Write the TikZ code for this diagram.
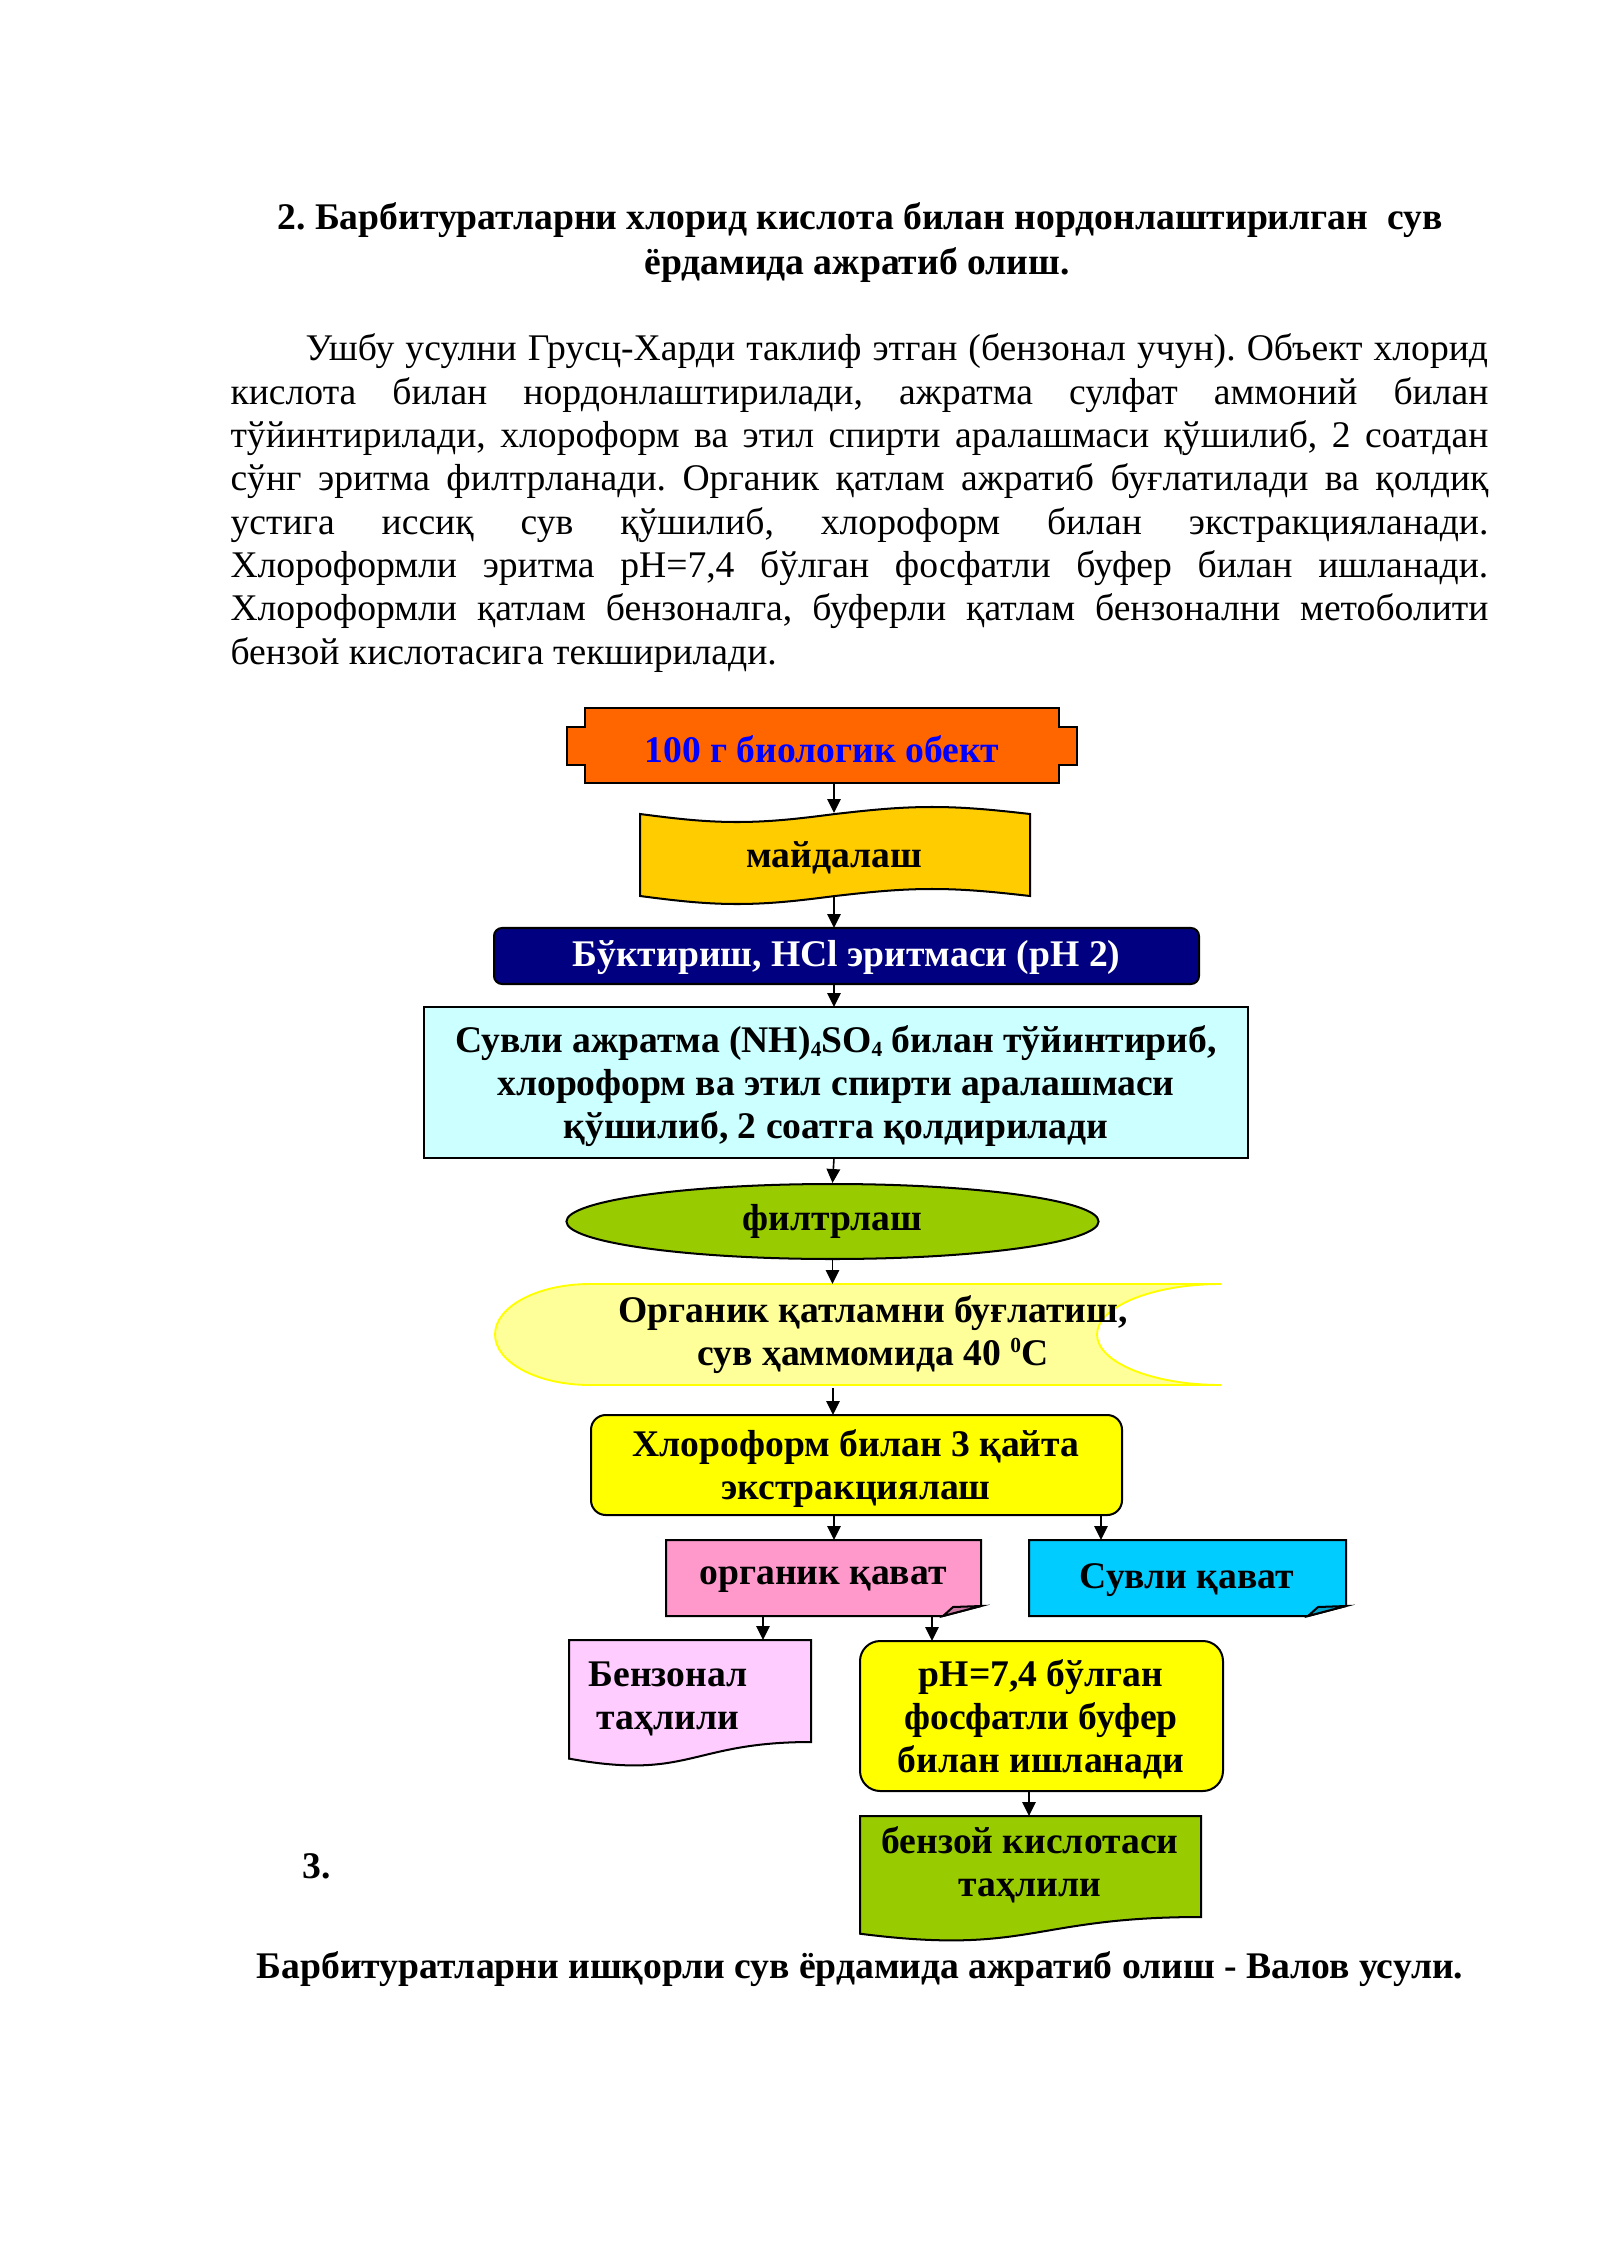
\documentclass[tikz,border=0pt]{standalone}
\usepackage{fontspec}
\setmainfont{Liberation Serif}
\usetikzlibrary{arrows.meta,shapes.geometric}
\definecolor{cOrange}{HTML}{FF6600}
\definecolor{cBlue}{HTML}{0000FF}
\definecolor{cGold}{HTML}{FFCC00}
\definecolor{cNavy}{HTML}{000080}
\definecolor{cLCyan}{HTML}{CCFFFF}
\definecolor{cGreen}{HTML}{99CC00}
\definecolor{cLYellow}{HTML}{FFFF99}
\definecolor{cYellow}{HTML}{FFFF00}
\definecolor{cPink}{HTML}{FF99CC}
\definecolor{cPinkD}{HTML}{CC7AA3}
\definecolor{cCyan}{HTML}{00CCFF}
\definecolor{cCyanD}{HTML}{00A3CC}
\definecolor{cPale}{HTML}{FFCCFF}
\newcommand{\lowfour}{\raisebox{-1.5pt}{\fontsize{8}{8}\selectfont 4}}
\tikzset{
  bx/.style={draw=black, line width=0.75pt, line join=miter},
  arr/.style={-{Triangle[length=5.2pt,width=5pt]}, line width=0.6pt},
  flowtxt/.style={font=\bfseries\fontsize{14}{16}\selectfont, align=center, inner sep=0pt},
  bodytxt/.style={font=\fontsize{14}{16.2}\selectfont, inner sep=0pt, anchor=base west},
  titletxt/.style={font=\bfseries\fontsize{14}{16.2}\selectfont, inner sep=0pt, anchor=base}
}
\begin{document}
\frenchspacing
\begin{tikzpicture}[x=0.37206pt,y=-0.37206pt]
\fill[white] (0,0) rectangle (1600,2262);
\useasboundingbox (0,0) rectangle (1600,2262);

% title
\node[titletxt] (t1) at (860,230) {2. Барбитуратларни хлорид кислота билан нордонлаштирилган\ \ сув};
\node[titletxt] (t2) at (857,275) {ёрдамида ажратиб олиш.};

% paragraph
\node[bodytxt] (p1) at (305,361) {\makebox[440pt][s]{Ушбу усулни Грусц-Харди таклиф этган (бензонал учун). Объект хлорид}};
\node[bodytxt] (p2) at (230,404.3) {\makebox[468pt][s]{кислота билан нордонлаштирилади, ажратма сулфат аммоний билан}};
\node[bodytxt] (p3) at (230,447.6) {\makebox[468pt][s]{тўйинтирилади, хлороформ ва этил спирти аралашмаси қўшилиб, 2 соатдан}};
\node[bodytxt] (p4) at (230,490.9) {\makebox[468pt][s]{сўнг эритма филтрланади. Органик қатлам ажратиб буғлатилади ва қолдиқ}};
\node[bodytxt] (p5) at (230,534.2) {\makebox[468pt][s]{устига иссиқ сув қўшилиб, хлороформ билан экстракцияланади.}};
\node[bodytxt] (p6) at (230,577.5) {\makebox[468pt][s]{Хлороформли эритма pH=7,4 бўлган фосфатли буфер билан ишланади.}};
\node[bodytxt] (p7) at (230,620.8) {\makebox[468pt][s]{Хлороформли қатлам бензоналга, буферли қатлам бензонални метоболити}};
\node[bodytxt] (p8) at (230,664.1) {бензой кислотасига текширилади.};

% box 1: 100 g
\draw[bx, fill=cOrange] (585,708) -- (1059,708) -- (1059,727) -- (1077,727) -- (1077,765) -- (1059,765) -- (1059,783) -- (585,783) -- (585,765) -- (567,765) -- (567,727) -- (585,727) -- cycle;
\node[flowtxt, text=cBlue] (n1) at (822,749) {100 г биологик обект};
\coordinate (n1s) at (834,783);

% box 2: punched tape
\draw[bx, fill=cGold] (640,814) sin (737,822) cos (835,814) sin (932,807) cos (1030,814) -- (1030,896) sin (932,889) cos (835,896) sin (737,904) cos (640,896) -- cycle;
\node[flowtxt] (n2) at (834,858) {майдалаш};
\coordinate (n2n) at (834,813);
\coordinate (n2s) at (834,896);

% box 3
\draw[bx, fill=cNavy, rounded corners=3pt] (494,928) rectangle (1199,984);
\node[flowtxt, text=white] (n3) at (846.5,958) {Бўктириш, HCl эритмаси (pH 2)};
\coordinate (n3n) at (834,928);
\coordinate (n3s) at (834,984);

% box 4
\draw[bx, fill=cLCyan] (424,1007) rectangle (1248,1158);
\node[flowtxt] (n4) at (836,1086) {Сувли ажратма (NH)\lowfour SO\lowfour\ билан тўйинтириб,\\хлороформ ва этил спирти аралашмаси\\қўшилиб, 2 соатга қолдирилади};
\coordinate (n4n) at (834,1007);
\coordinate (n4s) at (834,1158);

% ellipse
\node[bx, ellipse, fill=cGreen, minimum width=198pt, minimum height=27.9pt, flowtxt] (n5) at (832.5,1221.5) {филтрлаш};
\coordinate (n5s) at (832.5,1259);

% stored data
\draw[draw=cYellow, line width=0.7pt, fill=cLYellow] (1221,1284) -- (590,1284) .. controls (537.5,1284) and (495,1306.6) .. (495,1334.5) .. controls (495,1362.4) and (537.5,1385) .. (590,1385) -- (1221,1385) .. controls (1152.5,1385) and (1097,1362.4) .. (1097,1334.5) .. controls (1097,1306.6) and (1152.5,1284) .. (1221,1284) -- cycle;
\node[flowtxt] (n6) at (873,1335) {Органик қатламни буғлатиш,\\сув ҳаммомида 40 \raisebox{5pt}{\fontsize{8}{8}\selectfont 0}C};
\coordinate (n6n) at (832.5,1284);
\coordinate (n6s) at (833,1388);

% extraction
\draw[bx, fill=cYellow, rounded corners=5.5pt] (591,1415) rectangle (1122,1515);
\node[flowtxt] (n7) at (856,1469) {Хлороформ билан 3 қайта\\экстракциялаш};
\coordinate (n7n) at (833,1415);
\coordinate (n7sa) at (834,1515);
\coordinate (n7sb) at (1101,1515);

% organic layer
\draw[bx, fill=cPink] (666,1540) -- (981,1540) -- (981,1606) -- (943,1616) -- (666,1616) -- cycle;
\draw[bx, fill=cPinkD] (943,1616) -- (953,1607) -- (981,1606) -- cycle;
\node[flowtxt] (n8) at (823,1580) {органик қават};
\coordinate (n8n) at (834,1540);
\coordinate (n8sa) at (763,1616);
\coordinate (n8sb) at (932,1616);

% aqueous layer
\draw[bx, fill=cCyan] (1029,1540) -- (1346,1540) -- (1346,1606) -- (1308,1616) -- (1029,1616) -- cycle;
\draw[bx, fill=cCyanD] (1308,1616) -- (1318,1607) -- (1346,1606) -- cycle;
\node[flowtxt] (n9) at (1187,1580) {Сувли қават};
\coordinate (n9n) at (1101,1540);

% benzonal document
\draw[bx, fill=cPale] (569,1640) -- (811,1640) -- (811,1742) .. controls (690,1742) and (690,1780.7) .. (569,1758.6) -- cycle;
\node[flowtxt] (n10) at (668,1699) {Бензонал\\таҳлили};
\coordinate (n10n) at (763,1640);

% pH box
\draw[bx, fill=cYellow, rounded corners=7.5pt] (860,1641) rectangle (1223,1791);
\node[flowtxt] (n11) at (1041,1719) {pH=7,4 бўлган\\фосфатли буфер\\билан ишланади};
\coordinate (n11n) at (932,1641);
\coordinate (n11s) at (1029,1791);

% benzoic acid document
\draw[bx, fill=cGreen] (860,1816) -- (1201,1816) -- (1201,1917) .. controls (1030.5,1917) and (1030.5,1955.5) .. (860,1933.7) -- cycle;
\node[flowtxt] (n12) at (1030,1865) {бензой кислотаси\\таҳлили};
\coordinate (n12n) at (1029,1816);

% texts below
\node[titletxt, anchor=base west] (s3) at (302,1878) {3.};
\node[titletxt] (bl) at (860,1978) {Барбитуратларни ишқорли сув ёрдамида ажратиб олиш - Валов усули.};

% arrows
\draw[arr] (n1s) -- (n2n);
\draw[arr] (n2s) -- (n3n);
\draw[arr] (n3s) -- (n4n);
\draw[arr] (n4s) -- (n5.north);
\draw[arr] (n5s) -- (n6n);
\draw[arr] (n6s) -- (n7n);
\draw[arr] (n7sa) -- (n8n);
\draw[arr] (n7sb) -- (n9n);
\draw[arr] (n8sa) -- (n10n);
\draw[arr] (n8sb) -- (n11n);
\draw[arr] (n11s) -- (n12n);
\end{tikzpicture}
\end{document}
